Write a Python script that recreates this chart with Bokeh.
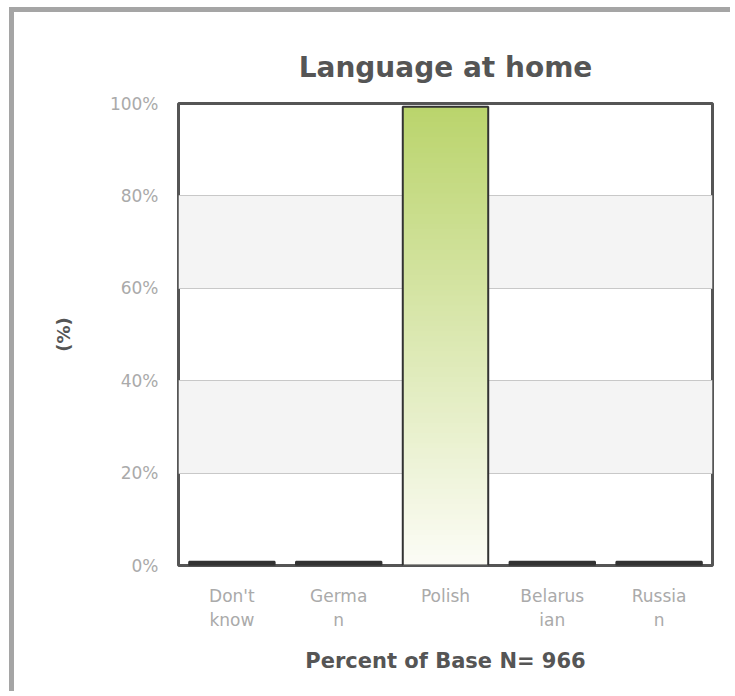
from bokeh.plotting import figure
from bokeh.models import Range1d, FixedTicker, PrintfTickFormatter
from bokeh.embed import file_html
from bokeh.resources import INLINE

categories = ["Don't know", "German", "Polish", "Belarusian", "Russian"]
wrapped_labels = ["Don't\nknow", "Germa\nn", "Polish", "Belarus\nian", "Russia\nn"]
percents = [0.8, 0.8, 99.3, 0.8, 0.8]
y_ticks = [0, 20, 40, 60, 80, 100]
title_text = "Language at home"
x_title = "Percent of Base N= 966"
y_title = "(%)"

W, H = 721, 684
p = figure(x_range=wrapped_labels, y_range=Range1d(0, 100), width=W, height=H,
           output_backend="svg", toolbar_location=None,
           min_border_left=164, min_border_right=23, min_border_top=91,
           min_border_bottom=131)
p.styles = {"border-left": "5px solid #a5a5a5", "border-top": "5px solid #a5a5a5",
            "margin-left": "9px", "margin-top": "7px"}
p.background_fill_color = "white"
p.border_fill_color = "white"
p.outline_line_color = "#555555"
p.outline_line_width = 3

p.title.text = title_text
p.title.align = "center"
p.title.text_color = "#555555"
p.title.text_font = "DejaVu Sans"
p.title.text_font_style = "bold"
p.title.text_font_size = "28px"
p.title.standoff = 40

# grid and bands
p.xgrid.grid_line_color = None
p.ygrid.ticker = FixedTicker(ticks=y_ticks[1:])
p.ygrid.grid_line_color = "#c8c8c8"
p.ygrid.grid_line_width = 1
p.ygrid.band_fill_color = "#f4f4f4"
p.ygrid.band_fill_alpha = 1.0

# bars: gradient fill built as thin slices of each bar's own height
top_rgb = (186, 212, 108)
bot_rgb = (252, 252, 246)
nseg = 90
xs, bots, tops, cols = [], [], [], []
for c, v in zip(wrapped_labels, percents):
    if v < 5:
        continue
    for i in range(nseg):
        f0 = i / nseg
        f1 = (i + 1) / nseg
        t = (f0 + f1) / 2
        rgb = tuple(int(round(b + (tp - b) * t)) for b, tp in zip(bot_rgb, top_rgb))
        xs.append(c)
        bots.append(v * f0)
        tops.append(min(v * f1 + 0.4, v))
        cols.append("#%02x%02x%02x" % rgb)
p.vbar(x=xs, bottom=bots, top=tops, width=0.8, fill_color=cols, line_color=None)

small_x = [c for c, v in zip(wrapped_labels, percents) if v < 5]
small_v = [v for v in percents if v < 5]
p.vbar(x=small_x, top=small_v, width=0.8, fill_color="#333333",
       line_color="#333333", line_width=2)
big_x = [c for c, v in zip(wrapped_labels, percents) if v >= 5]
big_v = [v for v in percents if v >= 5]
p.vbar(x=big_x, top=big_v, width=0.8, fill_color=None,
       line_color="#333333", line_width=2)

# axes
p.yaxis.ticker = FixedTicker(ticks=y_ticks)
p.yaxis.formatter = PrintfTickFormatter(format="%d%%")
for ax in (p.xaxis[0], p.yaxis[0]):
    ax.axis_line_color = None
    ax.major_tick_line_color = None
    ax.minor_tick_line_color = None
    ax.major_label_text_color = "#aaaaaa"
    ax.major_label_text_font = "DejaVu Sans"
    ax.major_label_text_font_size = "17px"
    ax.axis_label_text_color = "#555555"
    ax.axis_label_text_font = "DejaVu Sans"
    ax.axis_label_text_font_style = "bold"
    ax.axis_label_text_font_size = "18px"
p.xaxis.axis_label_text_font_size = "21px"
p.yaxis.major_label_standoff = 14
p.xaxis.major_label_standoff = 14
p.xaxis.axis_label = x_title
p.xaxis.axis_label_standoff = 16
p.yaxis.axis_label = y_title
p.yaxis.axis_label_standoff = 33

open("out.html", "w").write(file_html(p, INLINE))
